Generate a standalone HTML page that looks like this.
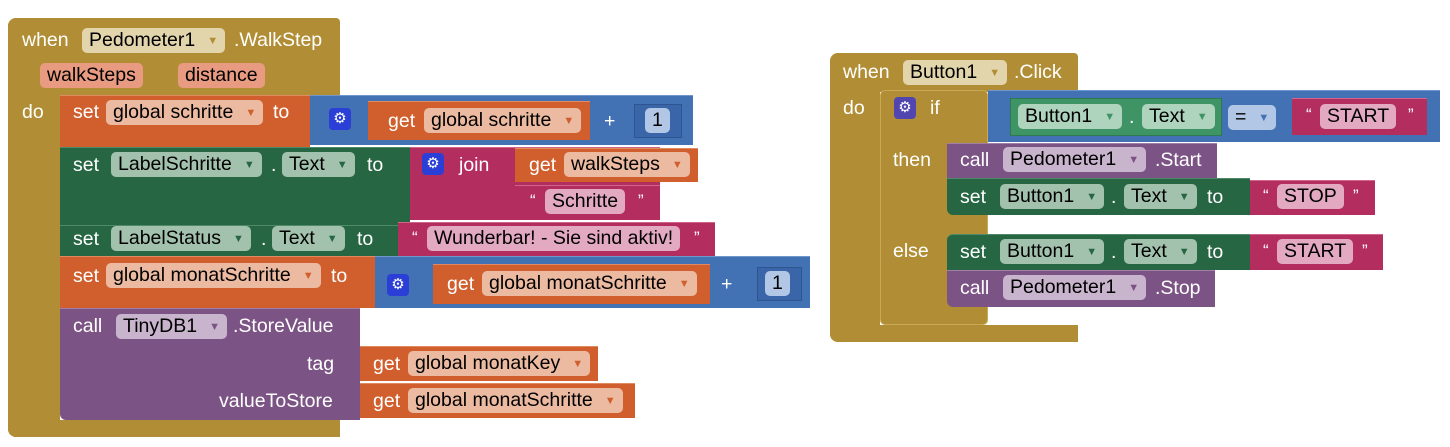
<!DOCTYPE html>
<html><head><meta charset="utf-8"><style>
body{margin:0;width:1450px;height:447px;background:#fff;position:relative;overflow:hidden;font-family:"Liberation Sans",sans-serif;font-size:19.5px}
div,span{position:absolute;box-sizing:border-box}
.g{background:#b18e35}.o{background:#d05f2d;border-top:1px solid #e08a62}.b{background:#4271b4;border-top:1px solid #7096cc}.gr{background:#266643;border-top:1px solid #4e8a68}.m{background:#b32d5e;border-top:1px solid #d0648b}.p{background:#7c5385;border-top:1px solid #9f7fa7}.lg{background:#3f9466;border:1px solid #2d7a50}
.t{color:#fff;height:24px;line-height:24px;white-space:nowrap}
.q{font-size:17px}
.f{height:25px;line-height:25px;border-radius:5px;padding:0 7px;color:#000;white-space:nowrap}
.f i{font-style:normal;font-size:11px;margin-left:12px;vertical-align:2px}
.fg{background:#e2d4ab}.fg i{color:#b18e35}
.fo{background:#ecbaa1}.fo i{color:#d05f2d}
.fgr{background:#a3c2ae}.fgr i{color:#266643}
.flg{background:#aed4bd}.flg i{color:#3f9466}
.fp{background:#c9b4cd}.fp i{color:#7c5385}
.fm{background:#e3a9c0}
.fb{background:#b2c6e6}.fb i{color:#4271b4}
.fs{background:#e89b80}
.gear{width:22px;height:22px;border-radius:4px;background:#2b3fd6;color:#fff;font-size:15px;line-height:22px;text-align:center}
.nb{background:#3a65a8;border:1px solid #2d5590}
</style></head><body>
<!-- LEFT EVENT -->
<div class="g" style="left:8px;top:18px;width:332px;height:77px;border-radius:8px 4px 0 0"></div>
<div class="g" style="left:8px;top:18px;width:52px;height:419px;border-radius:8px 0 0 8px"></div>
<div class="g" style="left:8px;top:420px;width:332px;height:17px;border-radius:0 0 0 8px"></div>
<span class="t" style="left:22px;top:28px">when</span>
<span class="f fg" style="left:82px;top:28px">Pedometer1<i>▼</i></span>
<span class="t" style="left:234px;top:28px">.WalkStep</span>
<span class="f fs" style="left:40px;top:63px">walkSteps</span>
<span class="f fs" style="left:178px;top:63px">distance</span>
<span class="t" style="left:22px;top:100px">do</span>

<div class="o" style="left:60px;top:95px;width:250px;height:52px"></div>
<span class="t" style="left:73px;top:100px">set</span>
<span class="f fo" style="left:106px;top:100px">global schritte<i>▼</i></span>
<span class="t" style="left:273px;top:100px">to</span>
<div class="b" style="left:310px;top:95px;width:383px;height:50px"></div>
<span class="gear" style="left:329px;top:108px">⚙</span>
<div class="o" style="left:368px;top:101px;width:222px;height:39px"></div>
<span class="t" style="left:388px;top:109px">get</span>
<span class="f fo" style="left:424px;top:108px">global schritte<i>▼</i></span>
<span class="t" style="left:604px;top:109px">+</span>
<div class="nb" style="left:634px;top:104px;width:48px;height:34px"></div>
<span class="f fb" style="left:645px;top:108px">1</span>

<div class="gr" style="left:60px;top:147px;width:350px;height:78px"></div>
<span class="t" style="left:73px;top:153px">set</span>
<span class="f fgr" style="left:111px;top:152px">LabelSchritte<i>▼</i></span>
<span class="t" style="left:271px;top:153px">.</span>
<span class="f fgr" style="left:282px;top:152px">Text<i>▼</i></span>
<span class="t" style="left:367px;top:153px">to</span>
<div class="m" style="left:410px;top:147px;width:250px;height:73px"></div>
<span class="gear" style="left:422px;top:153px">⚙</span>
<span class="t" style="left:459px;top:153px">join</span>
<div class="o" style="left:515px;top:148px;width:183px;height:34px"></div>
<span class="t" style="left:529px;top:153px">get</span>
<span class="f fo" style="left:564px;top:152px">walkSteps<i>▼</i></span>
<div class="m" style="left:515px;top:185px;width:145px;height:35px"></div>
<span class="t q" style="left:530px;top:189px">“</span>
<span class="f fm" style="left:545px;top:189px">Schritte</span>
<span class="t q" style="left:638px;top:189px">”</span>

<div class="gr" style="left:60px;top:225px;width:338px;height:31px"></div>
<span class="t" style="left:73px;top:227px">set</span>
<span class="f fgr" style="left:111px;top:226px">LabelStatus<i>▼</i></span>
<span class="t" style="left:261px;top:227px">.</span>
<span class="f fgr" style="left:272px;top:226px">Text<i>▼</i></span>
<span class="t" style="left:357px;top:227px">to</span>
<div class="m" style="left:398px;top:222px;width:317px;height:34px"></div>
<span class="t q" style="left:412px;top:226px">“</span>
<span class="f fm" style="left:427px;top:226px">Wunderbar! - Sie sind aktiv!</span>
<span class="t q" style="left:694px;top:226px">”</span>

<div class="o" style="left:60px;top:256px;width:315px;height:52px"></div>
<span class="t" style="left:73px;top:264px">set</span>
<span class="f fo" style="left:106px;top:263px">global monatSchritte<i>▼</i></span>
<span class="t" style="left:331px;top:264px">to</span>
<div class="b" style="left:375px;top:256px;width:435px;height:52px"></div>
<span class="gear" style="left:387px;top:274px">⚙</span>
<div class="o" style="left:433px;top:264px;width:277px;height:40px"></div>
<span class="t" style="left:447px;top:272px">get</span>
<span class="f fo" style="left:482px;top:271px">global monatSchritte<i>▼</i></span>
<span class="t" style="left:721px;top:272px">+</span>
<div class="nb" style="left:757px;top:267px;width:45px;height:34px"></div>
<span class="f fb" style="left:765px;top:271px">1</span>

<div class="p" style="left:60px;top:308px;width:300px;height:112px;border-radius:0 0 0 6px"></div>
<span class="t" style="left:73px;top:314px">call</span>
<span class="f fp" style="left:116px;top:314px">TinyDB1<i>▼</i></span>
<span class="t" style="left:233px;top:314px">.StoreValue</span>
<span class="t" style="left:307px;top:352px">tag</span>
<span class="t" style="left:219px;top:389px">valueToStore</span>
<div class="o" style="left:360px;top:346px;width:238px;height:35px"></div>
<span class="t" style="left:373px;top:352px">get</span>
<span class="f fo" style="left:408px;top:351px">global monatKey<i>▼</i></span>
<div class="o" style="left:360px;top:383px;width:275px;height:35px"></div>
<span class="t" style="left:373px;top:389px">get</span>
<span class="f fo" style="left:408px;top:388px">global monatSchritte<i>▼</i></span>

<!-- RIGHT EVENT -->
<div class="g" style="left:830px;top:53px;width:248px;height:39px;border-radius:8px 4px 0 0"></div>
<div class="g" style="left:830px;top:53px;width:50px;height:289px;border-radius:8px 0 0 8px"></div>
<div class="g" style="left:830px;top:325px;width:248px;height:17px;border-radius:0 0 0 8px"></div>
<span class="t" style="left:843px;top:60px">when</span>
<span class="f fg" style="left:903px;top:60px">Button1<i>▼</i></span>
<span class="t" style="left:1014px;top:60px">.Click</span>
<span class="t" style="left:843px;top:96px">do</span>
<div class="g" style="left:880px;top:90px;width:108px;height:235px;border:1px solid #c9a955;border-radius:5px"></div>
<span class="gear" style="left:894px;top:97px;background:#5146b0">⚙</span>
<span class="t" style="left:930px;top:96px">if</span>
<span class="t" style="left:893px;top:148px">then</span>
<span class="t" style="left:893px;top:239px">else</span>
<div class="b" style="left:988px;top:90px;width:452px;height:52px"></div>
<div class="lg" style="left:1010px;top:98px;width:212px;height:38px"></div>
<span class="f flg" style="left:1018px;top:104px">Button1<i>▼</i></span>
<span class="t" style="left:1129px;top:105px">.</span>
<span class="f flg" style="left:1142px;top:104px">Text<i>▼</i></span>
<span class="f fb" style="left:1228px;top:105px">=<i>▼</i></span>
<div class="m" style="left:1292px;top:98px;width:135px;height:37px"></div>
<span class="t q" style="left:1306px;top:103px">“</span>
<span class="f fm" style="left:1320px;top:104px">START</span>
<span class="t q" style="left:1408px;top:103px">”</span>

<div class="p" style="left:947px;top:143px;width:270px;height:35px"></div>
<span class="t" style="left:960px;top:148px">call</span>
<span class="f fp" style="left:1003px;top:147px">Pedometer1<i>▼</i></span>
<span class="t" style="left:1155px;top:148px">.Start</span>
<div class="gr" style="left:947px;top:178px;width:303px;height:37px;border-radius:0 0 0 6px"></div>
<span class="t" style="left:960px;top:185px">set</span>
<span class="f fgr" style="left:1000px;top:184px">Button1<i>▼</i></span>
<span class="t" style="left:1111px;top:185px">.</span>
<span class="f fgr" style="left:1124px;top:184px">Text<i>▼</i></span>
<span class="t" style="left:1207px;top:185px">to</span>
<div class="m" style="left:1250px;top:180px;width:125px;height:35px"></div>
<span class="t q" style="left:1263px;top:184px">“</span>
<span class="f fm" style="left:1277px;top:184px">STOP</span>
<span class="t q" style="left:1353px;top:184px">”</span>

<div class="gr" style="left:947px;top:234px;width:303px;height:36px;border-radius:6px 0 0 0"></div>
<span class="t" style="left:960px;top:240px">set</span>
<span class="f fgr" style="left:1000px;top:239px">Button1<i>▼</i></span>
<span class="t" style="left:1111px;top:240px">.</span>
<span class="f fgr" style="left:1124px;top:239px">Text<i>▼</i></span>
<span class="t" style="left:1207px;top:240px">to</span>
<div class="m" style="left:1250px;top:234px;width:133px;height:36px"></div>
<span class="t q" style="left:1263px;top:239px">“</span>
<span class="f fm" style="left:1277px;top:239px">START</span>
<span class="t q" style="left:1362px;top:239px">”</span>
<div class="p" style="left:947px;top:270px;width:268px;height:37px;border-radius:0 0 0 6px"></div>
<span class="t" style="left:960px;top:276px">call</span>
<span class="f fp" style="left:1003px;top:275px">Pedometer1<i>▼</i></span>
<span class="t" style="left:1155px;top:276px">.Stop</span>
</body></html>
